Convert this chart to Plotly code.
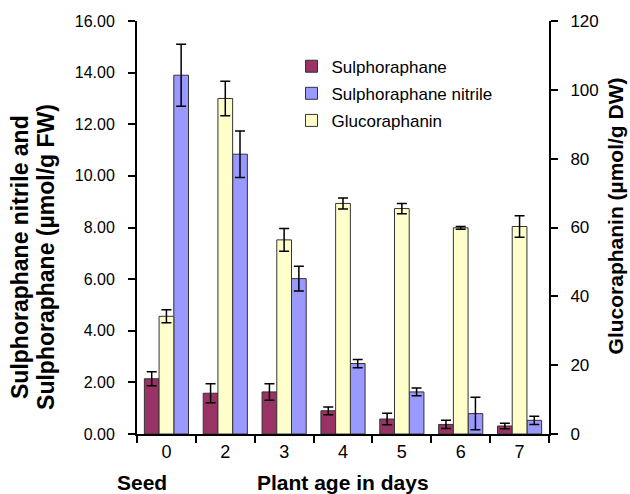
import plotly.graph_objects as go

categories = ["0", "2", "3", "4", "5", "6", "7"]
sulphoraphane = [2.14, 1.58, 1.63, 0.90, 0.58, 0.37, 0.31]
sulphoraphane_err = [0.27, 0.37, 0.32, 0.15, 0.22, 0.16, 0.11]
nitrile = [13.90, 10.84, 6.02, 2.73, 1.63, 0.79, 0.53]
nitrile_err = [1.20, 0.90, 0.48, 0.16, 0.15, 0.63, 0.16]
glucoraphanin = [34.2, 97.5, 56.4, 67.0, 65.5, 59.9, 60.3]
glucoraphanin_err = [1.9, 5.0, 3.3, 1.6, 1.5, 0.4, 3.1]

FONT = "Liberation Sans, Arial, sans-serif"
outline = dict(color="#333333", width=1)
err_style = dict(type="data", color="black", thickness=1.5, width=5)

fig = go.Figure()
fig.add_trace(go.Bar(
    name="Sulphoraphane", x=categories, y=sulphoraphane,
    error_y=dict(array=sulphoraphane_err, **err_style),
    marker=dict(color="#993366", line=outline),
    offset=-0.375, width=0.25, yaxis="y", legendgroup="a"))
fig.add_trace(go.Bar(
    name="Sulphoraphane nitrile", x=categories, y=nitrile,
    error_y=dict(array=nitrile_err, **err_style),
    marker=dict(color="#9999FF", line=outline),
    offset=0.125, width=0.25, yaxis="y", legendgroup="b"))
fig.add_trace(go.Bar(
    name="Glucoraphanin", x=categories, y=glucoraphanin,
    error_y=dict(array=glucoraphanin_err, **err_style),
    marker=dict(color="#FFFFCC", line=outline),
    offset=-0.125, width=0.25, yaxis="y2", legendgroup="c"))

TITLE = dict(size=21, family=FONT, color="black")
LTITLE = dict(size=23, family=FONT, color="black")

fig.update_layout(
    width=630, height=494,
    margin=dict(l=137, r=81, t=21, b=60),
    paper_bgcolor="white", plot_bgcolor="white",
    font=dict(family=FONT, size=17, color="black"),
    showlegend=True,
    legend=dict(x=0.375, y=0.933, xanchor="left", yanchor="top",
                traceorder="grouped", tracegroupgap=2,
                bgcolor="rgba(0,0,0,0)", font=dict(size=17)),
    xaxis=dict(type="category", showline=True, linecolor="black", linewidth=2,
               ticks="outside", tickson="boundaries", ticklen=7, tickwidth=2,
               tickcolor="black", tickfont=dict(size=18),
               range=[-0.5, 6.5]),
    yaxis=dict(range=[0, 16], dtick=2, tickformat=".2f", showline=True,
               linecolor="black", linewidth=2, ticks="outside", ticklen=7,
               tickwidth=2, tickcolor="black", showgrid=False, zeroline=False,
               tickfont=dict(size=16), ticklabelstandoff=10),
    yaxis2=dict(range=[0, 120], dtick=20, overlaying="y", side="right",
                showline=True, linecolor="black", linewidth=2, ticks="outside",
                ticklen=7, tickwidth=2, tickcolor="black", showgrid=False,
                zeroline=False, tickfont=dict(size=17), ticklabelstandoff=9),
    annotations=[
        dict(text="<b>Sulphoraphane nitrile and</b>",
             xref="paper", yref="paper", x=-0.284, y=0.4286, textangle=-90,
             showarrow=False, font=LTITLE, xanchor="center", yanchor="middle"),
        dict(text="<b>Sulphoraphane (µmol/g FW)</b>",
             xref="paper", yref="paper", x=-0.221, y=0.4286, textangle=-90,
             showarrow=False, font=LTITLE, xanchor="center", yanchor="middle"),
        dict(text="<b>Glucoraphanin (µmol/g DW)</b>",
             xref="paper", yref="paper", x=(629 - 137) / 412, y=0.528, textangle=-90,
             showarrow=False, font=TITLE, xanchor="right", yanchor="middle"),
        dict(text="<b>Seed</b>", xref="paper", yref="paper", x=0.0126, y=-0.1186,
             showarrow=False, font=TITLE, xanchor="center", yanchor="middle"),
        dict(text="<b>Plant age in days</b>", xref="paper", yref="paper", x=0.5, y=-0.1186,
             showarrow=False, font=TITLE, xanchor="center", yanchor="middle"),
    ],
)

fig.write_html("out.html")
